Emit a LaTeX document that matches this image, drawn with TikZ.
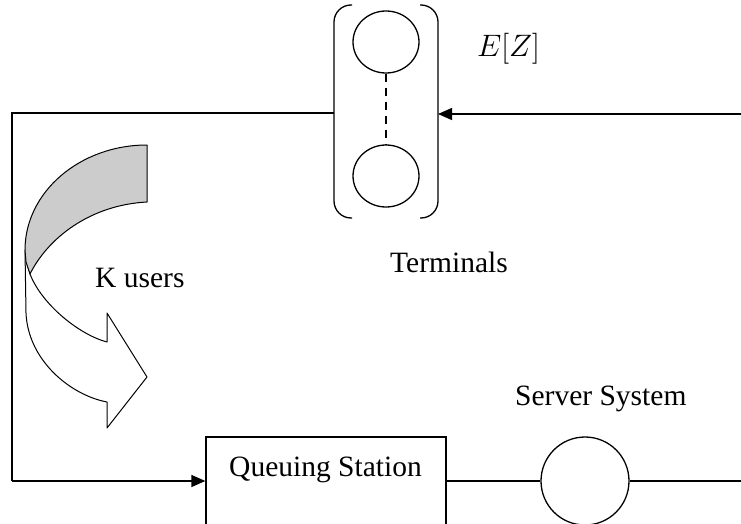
\RequirePackage{fix-cm}
\documentclass[tikz,border=0pt]{standalone}
\usepackage{fontspec}
\setmainfont{Liberation Serif}
\usetikzlibrary{arrows.meta,shapes.geometric}
\tikzset{
  line/.style={line width=1.3pt},
  arr/.style={line width=1.3pt,-{Triangle[length=14pt,width=12pt]}},
  label text/.style={font=\fontsize{29.5}{34}\selectfont,inner sep=0pt},
  station/.style={draw,line width=1.3pt,inner sep=0pt,fill=white},
  term/.style={draw,line width=1.3pt,ellipse,inner sep=0pt,minimum width=66pt,minimum height=62pt},
  server/.style={draw,line width=1.3pt,circle,inner sep=0pt,minimum size=88pt},
  bracket/.style={line width=1.3pt,rounded corners=17pt},
  band/.style={line width=1pt,line join=round}
}
\begin{document}
\begin{tikzpicture}[x=1pt,y=-1pt]
\useasboundingbox (0,0) rectangle (741,524);
\clip (0,0) rectangle (741,524);

% terminals: two stations inside a pair of brackets
\node[term] (t1) at (386,42) {};
\node[term] (t2) at (386,176) {};
\draw[line,dashed,dash pattern=on 8pt off 6pt] (t1.south) -- (t2.north);
\draw[bracket] (352,5) -- (334,5) -- (334,218) -- (352,218);
\draw[bracket] (420,5) -- (438,5) -- (438,218) -- (420,218);
\coordinate (tin) at (438,114);
\coordinate (tout) at (334,113);

% queuing station and server
\node[station,minimum width=240pt,minimum height=126pt] (qs) at (326,500) {};
\node[label text,anchor=base west] (qsl) at (229,476) {Queuing Station};
\node[server] (srv) at (585,481) {};

% closed loop
\coordinate (c1) at (12,113);
\coordinate (c2) at (12,481);
\coordinate (rin) at (741,114);
\coordinate (rout) at (741,481);
\draw[line] (tout) -- (c1) -- (c2);
\draw[arr] (c2) -- (qs.west |- srv);
\draw[line] (qs.east |- srv) -- (srv.west);
\draw[line] (srv.east) -- (rout);
\draw[arr] (rin) -- (tin);

% curved arrow of the user population
\draw[band,fill=white]
  (25,250) -- (26,313) .. controls (28,360) and (70,395) .. (107,402)
  -- (107,428) -- (147,377) -- (107,313) -- (107,342)
  .. controls (80,335) and (42,305) .. (30,274) -- cycle;
\draw[band,fill=black!20]
  (147,145) .. controls (80,145) and (25,192) .. (25,250)
  -- (26,262) -- (30,274)
  .. controls (48,238) and (90,205) .. (147,202) -- cycle;

% labels
\node[label text,anchor=base west] (tl) at (390,272) {Terminals};
\node[label text,anchor=base west] (kl) at (95,287) {K users};
\node[label text,anchor=base west] (sl) at (515,405) {Server System};
\node[inner sep=0pt,anchor=base west,font=\fontsize{31}{36}\selectfont] (ez) at (477,57) {$E[Z]$};
\end{tikzpicture}
\end{document}
